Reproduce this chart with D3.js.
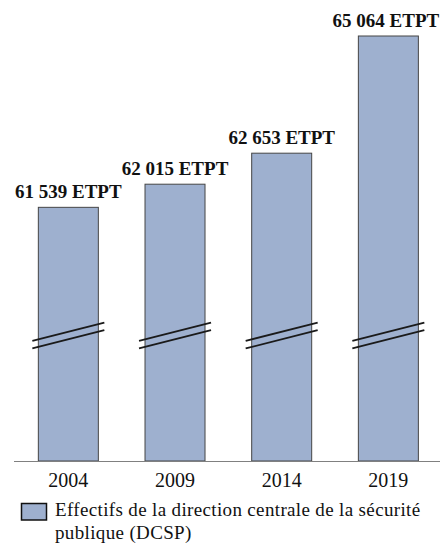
<!DOCTYPE html>
<html>
<head>
<meta charset="utf-8">
<script src="https://cdn.jsdelivr.net/npm/d3@7"></script>
<style>
  html, body { margin: 0; padding: 0; background: #fff; }
  svg { display: block; }
</style>
</head>
<body>
<svg id="chart" width="440" height="544"></svg>
<script>
const years = ["2004", "2009", "2014", "2019"];
const values = [61539, 62015, 62653, 65064];
const valueLabels = ["61 539 ETPT", "62 015 ETPT", "62 653 ETPT", "65 064 ETPT"];
const legendLines = ["Effectifs de la direction centrale de la sécurité", "publique (DCSP)"];

const svg = d3.select("#chart");
const W = 440, H = 544;
const baseY = 461;
const fill = "#9eb0cf";
const serif = "'Liberation Serif', 'DejaVu Serif', serif";

const x = d3.scaleBand()
  .domain(years)
  .range([15, 441.7])
  .paddingInner(0.4375)
  .paddingOuter(0.21875);

// broken axis: bars start at a truncated value
const y = d3.scaleLinear()
  .domain([56320, 65064])
  .range([baseY, 36]);

const data = years.map((yr, i) => ({ yr, v: values[i], label: valueLabels[i] }));

// bars
svg.append("g").selectAll("rect")
  .data(data)
  .join("rect")
  .attr("x", d => x(d.yr))
  .attr("y", d => y(d.v))
  .attr("width", x.bandwidth())
  .attr("height", d => baseY - y(d.v))
  .attr("fill", fill)
  .attr("stroke", "#454545")
  .attr("stroke-width", 1);

// break marks
const breakY = 335.5;
const ext = 6;
const g = svg.append("g");
data.forEach(d => {
  const x0 = x(d.yr) - ext, x1 = x(d.yr) + x.bandwidth() + ext;
  const half = (x1 - x0) / 2 * 0.254;
  [-3.8, 3.8].forEach(off => {
    g.append("line")
      .attr("x1", x0).attr("y1", breakY + off + half)
      .attr("x2", x1).attr("y2", breakY + off - half)
      .attr("stroke", "#1a1a1a")
      .attr("stroke-width", 1.8);
  });
});

// value labels
const labels = svg.append("g").selectAll("text")
  .data(data)
  .join("text")
  .attr("x", d => x(d.yr) + x.bandwidth() / 2)
  .attr("y", d => y(d.v) - 9.5)
  .attr("text-anchor", "middle")
  .attr("font-family", serif)
  .attr("font-weight", "bold")
  .attr("font-size", 19)
  .attr("fill", "#111")
  .text(d => d.label);
// keep the last label inside the frame
labels.each(function() {
  const bb = this.getBBox();
  if (bb.x + bb.width > W - 0.5) {
    const cx = +this.getAttribute("x");
    this.setAttribute("x", cx - (bb.x + bb.width - (W - 0.5)));
  }
});

// x axis
const axis = svg.append("g")
  .attr("transform", `translate(0,${baseY})`)
  .call(d3.axisBottom(x).tickSize(0).tickPadding(12));
axis.select(".domain")
  .attr("d", `M14,0.5H440`)
  .attr("stroke", "#808080")
  .attr("stroke-width", 1.2);
axis.selectAll(".tick text")
  .attr("font-family", serif)
  .attr("font-size", 20)
  .attr("fill", "#111")
  .attr("dy", "0.71em");

// legend
const lg = svg.append("g");
lg.append("rect")
  .attr("x", 21.5).attr("y", 503.5)
  .attr("width", 25).attr("height", 16.5)
  .attr("fill", fill)
  .attr("stroke", "#111")
  .attr("stroke-width", 1.5);
lg.selectAll("text")
  .data(legendLines)
  .join("text")
  .attr("x", 55)
  .attr("y", (d, i) => 516 + i * 23)
  .attr("font-family", serif)
  .attr("font-size", 19)
  .attr("letter-spacing", 0.35)
  .attr("fill", "#111")
  .text(d => d);
</script>
</body>
</html>
